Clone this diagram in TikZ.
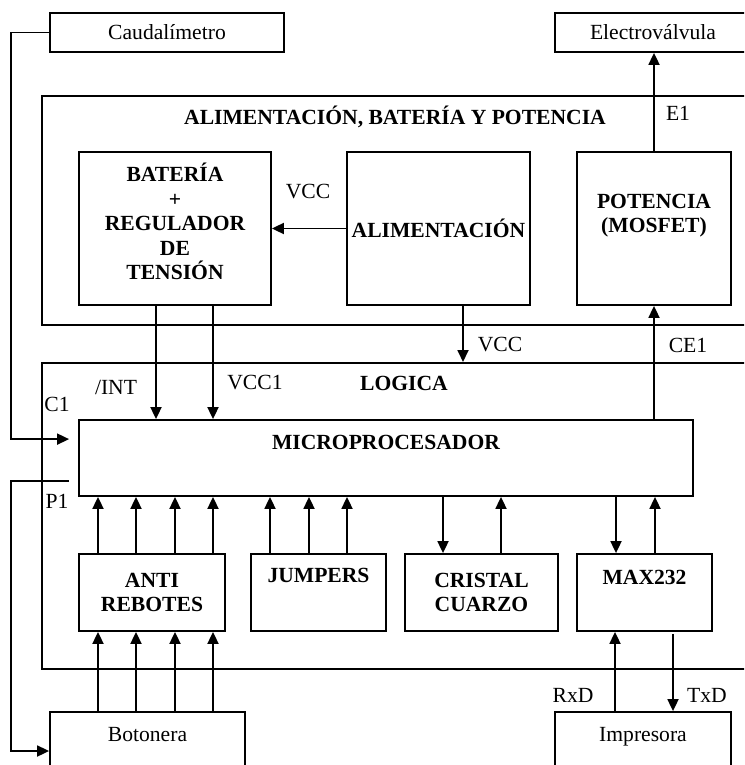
\documentclass[tikz,border=0pt]{standalone}
\usepackage{fontspec}
\setmainfont{Liberation Serif}
\usetikzlibrary{arrows.meta, positioning, calc}
\newcommand{\diafont}{\fontsize{21.6}{24.5}\selectfont}
\tikzset{
  blk/.style={draw, line width=1.8pt, inner sep=0pt, align=center},
  sblk/.style={draw, line width=1.8pt, inner ysep=0pt},
  bold/.style={font=\diafont\bfseries},
  arr/.style={-{Triangle[length=12pt,width=11pt]}, line width=1.8pt},
  sig/.style={inner sep=0pt},
}

\begin{document}
\begin{tikzpicture}[x=1pt, y=-1pt, every node/.style={font=\diafont}]
  \useasboundingbox (0,0) rectangle (744,765);
  \clip (0,0) rectangle (744,765);

  %% Field devices
  \node[sblk, minimum width=234, minimum height=39] (caud) at (167,32.5) {Caudalímetro};
  \node[sblk, minimum width=196, minimum height=39] (elec) at (653,32.5) {Electroválvula};
  \node[sblk, minimum width=195, text height=29pt, text depth=49pt] (boton) at (147.5,751) {Botonera};
  \node[sblk, minimum width=176, text height=29pt, text depth=49pt] (imp) at (643,751) {Impresora};

  %% Group 1: power
  \node[blk, minimum width=720, minimum height=229, anchor=north west] (alimgrp) at (41,95) {};
  \node[bold] (alimttl) at (395,117) {ALIMENTACIÓN, BATERÍA Y POTENCIA};
  \node[blk, minimum width=192, minimum height=153,
        label={[sig, bold, align=center, yshift=7pt]center:{BATERÍA\\+\\REGULADOR\\DE\\TENSIÓN}}]
        (bat) at (175,228.5) {};
  \node[blk, bold, minimum width=183, minimum height=153] (alim) at (438.5,228.5) {ALIMENTACIÓN};
  \node[blk, minimum width=154, minimum height=153,
        label={[sig, bold, align=center, yshift=13pt]center:{POTENCIA\\(MOSFET)}}]
        (pot) at (654,228.5) {};

  %% Group 2: logic
  \node[blk, minimum width=720, minimum height=306, anchor=north west] (logicgrp) at (41,362) {};
  \node[bold] (logttl) at (404,383) {LOGICA};
  \node[sblk, bold, minimum width=614, text height=29pt, text depth=47pt] (micro) at (386,458) {MICROPROCESADOR};
  \node[blk, bold, minimum width=146, minimum height=77] (anti) at (152,592.5) {ANTI\\REBOTES};
  \node[sblk, bold, minimum width=135, text height=28pt, text depth=49pt] (jump) at (318.5,592.5) {JUMPERS};
  \node[blk, bold, minimum width=153, minimum height=77] (crist) at (481.5,592.5) {CRISTAL\\CUARZO};
  \node[sblk, bold, minimum width=135, text height=30pt, text depth=47pt] (max) at (644.5,592.5) {MAX232};

  %% Signal names
  \node (vccbat) at (308,192) {VCC};
  \node (e1)     at (678,113) {E1};
  \node (vcclog) at (500,345) {VCC};
  \node (ce1)    at (688,345) {CE1};
  \node (lint)   at (116,387) {/INT};
  \node (vcc1)   at (255,383) {VCC1};
  \node (c1)     at (57,404)  {C1};
  \node (p1)     at (57,501)  {P1};
  \node (rxd)    at (573,695) {RxD};
  \node (txd)    at (707,695) {TxD};

  %% Power connections
  \draw[arr] (alim.west) -- (alim.west -| bat.east);
  \draw[arr] (pot.north) -- (pot.north |- elec.south);
  \draw[arr] ([xshift=24.5pt]alim.south) -- ([xshift=24.5pt]alim.south |- logicgrp.north);
  \draw[arr] (pot.south |- micro.north) -- (pot.south);
  \draw[arr] ([xshift=-19pt]bat.south) -- ([xshift=-19pt]bat.south |- micro.north);
  \draw[arr] ([xshift=38pt]bat.south) -- ([xshift=38pt]bat.south |- micro.north);

  %% Sensor in, buttons out
  \draw[arr, shorten >=9pt] (caud.west) -- ++(-38,0) |- ([yshift=-20pt]micro.north west);
  \draw[arr] ([xshift=-9pt, yshift=16pt]micro.south west) -- ++(-58,0) |- (boton.west);

  %% Peripherals of the microprocessor
  \foreach \x in {98,136,175,213} {
    \draw[arr] (\x,0 |- anti.north) -- (\x,0 |- micro.south);
    \draw[arr] (\x,0 |- boton.north) -- (\x,0 |- anti.south);
  }
  \foreach \x in {270,309,347}
    \draw[arr] (\x,0 |- jump.north) -- (\x,0 |- micro.south);
  \draw[arr] (443,0 |- micro.south) -- (443,0 |- crist.north);
  \draw[arr] (501,0 |- crist.north) -- (501,0 |- micro.south);
  \draw[arr] (616,0 |- micro.south) -- (616,0 |- max.north);
  \draw[arr] (655,0 |- max.north) -- (655,0 |- micro.south);

  %% Serial link
  \draw[arr] (615,0 |- imp.north) -- (615,0 |- max.south);
  \draw[arr] ([yshift=-2pt]673,0 |- max.south) -- (673,0 |- imp.north);

\end{tikzpicture}
\end{document}
